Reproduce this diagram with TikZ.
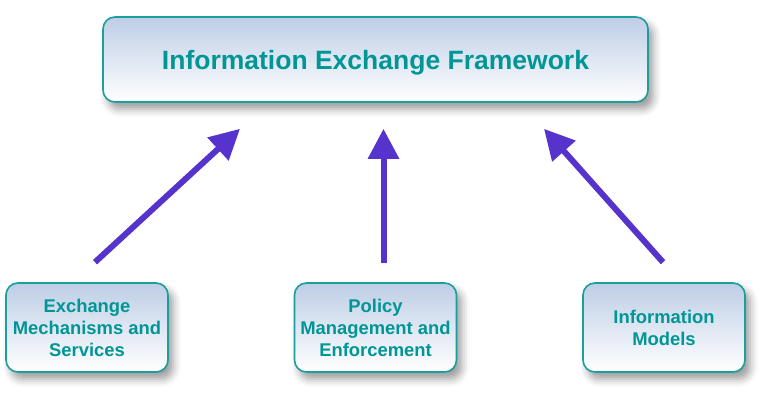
\documentclass[tikz,border=0pt]{standalone}
\usepackage{fontspec}
\setmainfont{Liberation Sans}
\usetikzlibrary{arrows.meta,shadows.blur}

\definecolor{boxline}{RGB}{26,158,158}
\definecolor{boxtop}{RGB}{190,206,230}
\definecolor{labeltext}{RGB}{0,150,150}
\definecolor{arrowblue}{RGB}{85,51,204}

\begin{document}
\begin{tikzpicture}[
                  x = 1pt, y = 1pt,
            box/.style = {rectangle,
                          rounded corners=12pt,
                          draw=boxline,
                          line width=1.6pt,
                          top color=boxtop,
                          bottom color=white,
                          text=labeltext,
                          font=\bfseries,
                          align=center,
                          inner sep=0pt,
                          blur shadow={shadow xshift=5pt,
                                       shadow yshift=-7pt,
                                       shadow blur radius=8pt,
                                       shadow opacity=40}},
          framebox/.style = {box, minimum width=545pt, minimum height=85pt,
                             text depth=0pt,
                             font=\fontsize{26.5}{32}\selectfont\bfseries},
           partbox/.style = {box, minimum width=162pt, minimum height=89pt,
                             font=\fontsize{18.4}{22}\selectfont\bfseries},
           uparrow/.style = {draw=arrowblue, line width=6pt,
                             -{Triangle[length=30pt,width=30pt]}},
            ]
    \useasboundingbox (0,0) rectangle (768,400);

    \node[framebox] (ief) at (375.5,340.5) {Information Exchange Framework};

    \node[partbox] (ems) at (87,72.5)    {Exchange\\Mechanisms and\\Services};
    \node[partbox] (pme) at (375.5,72.5) {Policy\\Management and\\Enforcement};
    \node[partbox] (im)  at (664,72.5)   {Information\\Models};

    % arrows stop short of the boxes
    \draw[uparrow] ([xshift=8pt,yshift=20pt]ems.north)
                -- ([xshift=-135.5pt,yshift=-26pt]ief.south);
    \draw[uparrow] ([xshift=8pt,yshift=19pt]pme.north)
                -- ([xshift=8pt,yshift=-26pt]ief.south);
    \draw[uparrow] ([xshift=-1pt,yshift=20pt]im.north)
                -- ([xshift=168.5pt,yshift=-26pt]ief.south);
\end{tikzpicture}
\end{document}
